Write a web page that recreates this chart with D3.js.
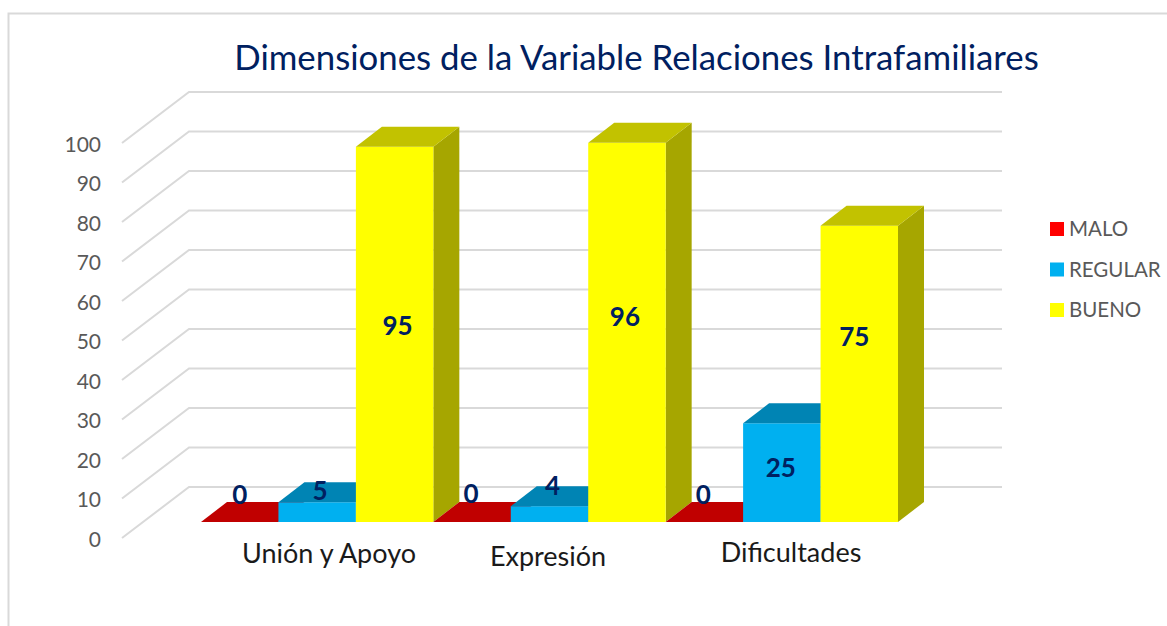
<!DOCTYPE html>
<html>
<head>
<meta charset="utf-8">
<script src="https://cdnjs.cloudflare.com/ajax/libs/d3/7.8.5/d3.min.js"></script>
<style>
	html, body { margin: 0; background: #fff; }
	svg { display: block; font-family: Lato, "Open Sans", sans-serif; }
	.axis path, .axis line { display: none; }
	.axis text { font-family: Lato, sans-serif; font-size: 21px; fill: #595959; }
</style>
</head>
<body>
<div id="chart"></div>
<script>
// chart values
var categories = ["Unión y Apoyo", "Expresión", "Dificultades"];
var seriesNames = ["MALO", "REGULAR", "BUENO"];
var malo = [0, 0, 0];
var regular = [5, 4, 25];
var bueno = [95, 96, 75];
var yTicks = d3.range(0, 101, 10);

var colors = ["#FF0000", "#00B0F0", "#FFFF00"],
	topColors = ["#C00000", "#0084B4", "#C2C200"],
	sideColors = ["#A00000", "#006F98", "#A6A600"];

var width = 1167,
	height = 626,
	wallX = 189,		// where the back wall starts
	frontX = 122,		// front edge of the floor
	wallDy = 51,
	barDx = 26,
	barDy = 20,
	floorShift = 16;	// bars stand this far behind the front edge

var svg = d3.select("#chart").append("svg")
	.attr("width", width)
	.attr("height", height);

// frame
svg.append("path")
	.attr("d", "M8.5,626V13.5H1167")
	.attr("fill", "none")
	.attr("stroke", "#D9D9D9")
	.attr("stroke-width", 2);

svg.append("text")
	.attr("x", 636.5)
	.attr("y", 70)
	.attr("text-anchor", "middle")
	.attr("font-size", 34.8)
	.attr("fill", "#002060")
	.text("Dimensiones de la Variable Relaciones Intrafamiliares");

var y = d3.scaleLinear().domain([0, 100]).range([538, 143]);
var x0 = d3.scaleBand().domain(categories).range([201, 898]);
var x1 = d3.scaleBand().domain(seriesNames).range([0, x0.bandwidth()]);

// gridlines: floor/side part and then along the back wall
svg.append("g")
	.selectAll("path")
	.data(yTicks)
	.enter().append("path")
	.attr("d", function(d) {
		return "M" + frontX + "," + y(d) + "L" + wallX + "," + (y(d) - wallDy) + "H1002";
	})
	.attr("fill", "none")
	.attr("stroke", "#D9D9D9")
	.attr("stroke-width", 2);

svg.append("g")
	.attr("class", "axis")
	.attr("transform", "translate(109,1.5)")
	.call(d3.axisLeft(y).tickValues(yTicks).tickSize(0).tickPadding(8));

var rows = categories.map(function(c, i) {
	return {category: c, values: [malo[i], regular[i], bueno[i]]};
});

var bars = [];
rows.forEach(function(r) {
	r.values.forEach(function(v, s) {
		bars.push({category: r.category, series: s, value: v});
	});
});

function barX(d) { return x0(d.category) + x1(seriesNames[d.series]); }
function barTop(d) { return y(d.value) - floorShift; }
var base = y(0) - floorShift;

var bar = svg.append("g").selectAll("g")
	.data(bars)
	.enter().append("g");

// side face
bar.append("path")
	.attr("d", function(d) {
		var r = barX(d) + x1.bandwidth(), t = barTop(d);
		return "M" + r + "," + t + "l" + barDx + "," + (-barDy) + "V" + (base - barDy) + "L" + r + "," + base + "Z";
	})
	.attr("fill", function(d) { return sideColors[d.series]; });

// front face
bar.append("rect")
	.attr("x", barX)
	.attr("y", barTop)
	.attr("width", x1.bandwidth())
	.attr("height", function(d) { return base - barTop(d); })
	.attr("fill", function(d) { return colors[d.series]; });

// top face
bar.append("path")
	.attr("d", function(d) {
		var l = barX(d), t = barTop(d);
		return "M" + l + "," + t + "l" + barDx + "," + (-barDy) + "h" + x1.bandwidth() + "l" + (-barDx) + "," + barDy + "Z";
	})
	.attr("fill", function(d) { return topColors[d.series]; });

// value labels were dragged by hand in the original, so each has its own nudge
var labelNudgeX = [-1, -1, -1, -2, -1, -6, -2, -5, -9],
	labelNudgeY = [1, 2, 2, 0, -7, -5, 1, 5, -27];

svg.append("g").selectAll("text")
	.data(bars)
	.enter().append("text")
	.attr("x", function(d, i) {
		return barX(d) + x1.bandwidth() / 2 + (d.value === 0 ? 1 : 4) + labelNudgeX[i];
	})
	.attr("y", function(d, i) {
		var ly;
		if (d.value === 0) ly = base - 19;
		else if (d.value < 10) ly = barTop(d) - 4;
		else ly = (barTop(d) + base) / 2 - 1;
		return ly + labelNudgeY[i];
	})
	.attr("text-anchor", "middle")
	.attr("font-size", 26)
	.attr("font-weight", 700)
	.attr("fill", "#002060")
	.text(function(d) { return d.value; });

// category labels sit a little uneven in the original
var catLabelX = [329, 548, 791],
	catLabelY = [563, 566, 562];
svg.append("g").selectAll("text")
	.data(categories)
	.enter().append("text")
	.attr("x", function(d, i) { return catLabelX[i]; })
	.attr("y", function(d, i) { return catLabelY[i]; })
	.attr("text-anchor", "middle")
	.attr("font-size", 27)
	.attr("fill", "#1a1a1a")
	.text(function(d) { return d; });

// legend
var legend = svg.append("g").selectAll("g")
	.data(seriesNames)
	.enter().append("g")
	.attr("transform", function(d, i) { return "translate(1050," + (222 + i * 40.5) + ")"; });

legend.append("rect")
	.attr("width", 14)
	.attr("height", 14)
	.attr("fill", function(d, i) { return colors[i]; });

legend.append("text")
	.attr("x", 19)
	.attr("y", 14)
	.attr("font-size", 20.5)
	.attr("fill", "#595959")
	.text(function(d) { return d; });
</script>
</body>
</html>
